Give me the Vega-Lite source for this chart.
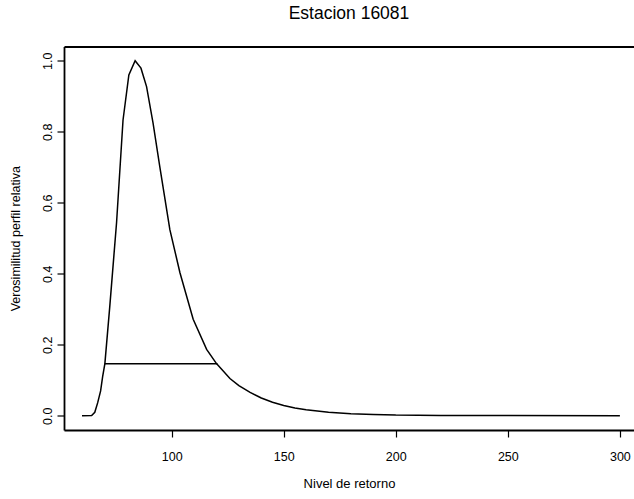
{
  "$schema": "https://vega.github.io/schema/vega-lite/v6.json",
  "autosize": {"type": "none"},
  "padding": {"left": 64, "top": 46.5, "right": 0, "bottom": 69},
  "width": 570,
  "height": 383.5,
  "background": "white",
  "title": {
    "text": "Estacion 16081",
    "font": "Liberation Sans",
    "fontSize": 17.5,
    "fontWeight": "normal",
    "color": "black",
    "anchor": "middle",
    "baseline": "alphabetic",
    "offset": 10.5
  },
  "config": {
    "view": {"stroke": null},
    "axis": {
      "labelFont": "Liberation Sans",
      "titleFont": "Liberation Sans",
      "labelColor": "black",
      "titleColor": "black",
      "domainColor": "black",
      "tickColor": "black",
      "grid": false
    }
  },
  "datasets": {
    "perfil": [
      {"nivel": 60.0, "vr": 0.0},
      {"nivel": 64.3, "vr": 0.001},
      {"nivel": 65.7, "vr": 0.01},
      {"nivel": 67.0, "vr": 0.037},
      {"nivel": 68.3, "vr": 0.07},
      {"nivel": 69.2, "vr": 0.11},
      {"nivel": 70.2, "vr": 0.147},
      {"nivel": 72.4, "vr": 0.309},
      {"nivel": 75.4, "vr": 0.543},
      {"nivel": 78.3, "vr": 0.833},
      {"nivel": 80.9, "vr": 0.96},
      {"nivel": 83.7, "vr": 1.0},
      {"nivel": 86.3, "vr": 0.979},
      {"nivel": 88.8, "vr": 0.927},
      {"nivel": 91.7, "vr": 0.824},
      {"nivel": 94.7, "vr": 0.702},
      {"nivel": 99.2, "vr": 0.524},
      {"nivel": 103.7, "vr": 0.403},
      {"nivel": 109.6, "vr": 0.272},
      {"nivel": 115.6, "vr": 0.187},
      {"nivel": 120.0, "vr": 0.147},
      {"nivel": 126.0, "vr": 0.105},
      {"nivel": 130.0, "vr": 0.085},
      {"nivel": 135.0, "vr": 0.066},
      {"nivel": 140.0, "vr": 0.05},
      {"nivel": 145.0, "vr": 0.038},
      {"nivel": 150.0, "vr": 0.029},
      {"nivel": 155.0, "vr": 0.022},
      {"nivel": 160.0, "vr": 0.017},
      {"nivel": 170.0, "vr": 0.01},
      {"nivel": 180.0, "vr": 0.006},
      {"nivel": 190.0, "vr": 0.004},
      {"nivel": 200.0, "vr": 0.002},
      {"nivel": 220.0, "vr": 0.001},
      {"nivel": 250.0, "vr": 0.0005},
      {"nivel": 300.0, "vr": 0.0002}
    ],
    "intervalo": [
      {"desde": 70.1, "hasta": 120.4, "vr": 0.1465}
    ]
  },
  "layer": [
    {
      "data": {"name": "perfil"},
      "mark": {"type": "line", "color": "black", "strokeWidth": 1.5, "clip": true},
      "encoding": {
        "x": {
          "field": "nivel",
          "type": "quantitative",
          "scale": {"domain": [51.96, 306.3], "zero": false, "nice": false},
          "axis": {
            "orient": "bottom",
            "values": [100, 150, 200, 250, 300],
            "tickSize": 7,
            "tickWidth": 1.2,
            "domainWidth": 1.8,
            "labelFontSize": 12.5,
            "labelPadding": 13,
            "labelFlush": false,
            "labelOverlap": false,
            "title": "Nivel de retorno",
            "titleFontSize": 13,
            "titleFontWeight": "normal",
            "titlePadding": 15
          }
        },
        "y": {
          "field": "vr",
          "type": "quantitative",
          "scale": {"domain": [-0.04, 1.04], "zero": false, "nice": false},
          "axis": {
            "values": [0, 0.2, 0.4, 0.6, 0.8, 1.0],
            "format": ".1f",
            "labelAngle": 270,
            "tickSize": 7,
            "tickWidth": 1.2,
            "domainWidth": 1.8,
            "labelFontSize": 12.5,
            "labelPadding": 3,
            "labelFlush": false,
            "labelOverlap": false,
            "title": "Verosimilitud perfil relativa",
            "titleFontSize": 12.5,
            "titleFontWeight": "normal",
            "titlePadding": 19
          }
        }
      }
    },
    {
      "data": {"name": "intervalo"},
      "mark": {"type": "rule", "color": "black", "strokeWidth": 1.5},
      "encoding": {
        "x": {
          "field": "desde",
          "type": "quantitative",
          "axis": {
            "orient": "top",
            "labels": false,
            "ticks": false,
            "domain": true,
            "domainWidth": 1.8,
            "title": null
          }
        },
        "x2": {"field": "hasta"},
        "y": {"field": "vr", "type": "quantitative"}
      }
    }
  ],
  "resolve": {"axis": {"x": "independent"}}
}
